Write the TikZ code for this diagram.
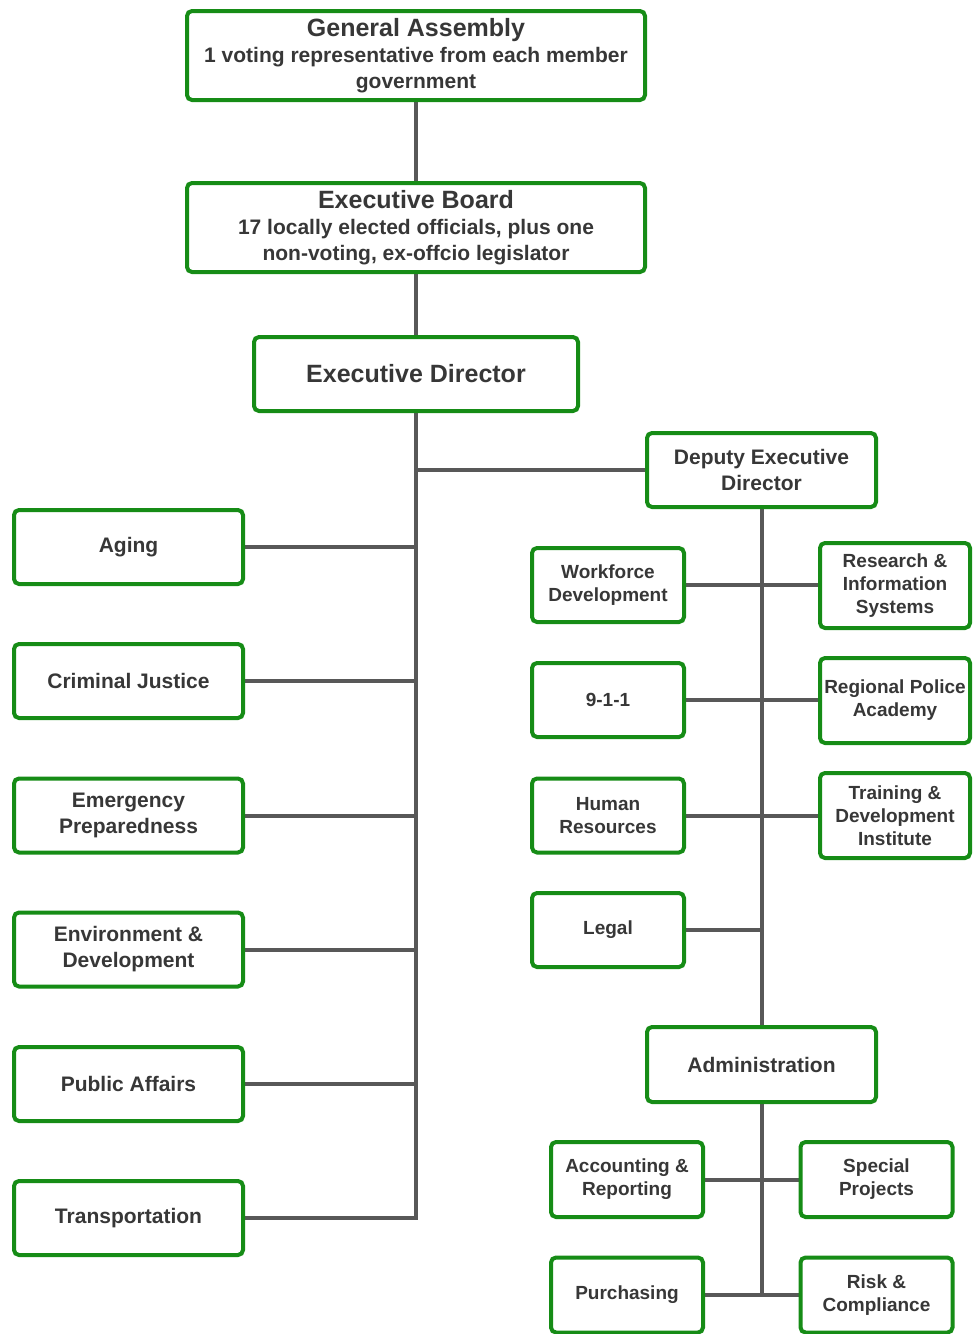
\documentclass[tikz,border=0pt]{standalone}
\usepackage{fontspec}
\setmainfont{Liberation Sans}
\usetikzlibrary{positioning, backgrounds}

\definecolor{boxgreen}{RGB}{22,140,22}
\definecolor{linkgray}{RGB}{88,88,88}
\definecolor{txtgray}{RGB}{55,55,55}

\begin{document}
\begin{tikzpicture}[
    x=1pt, y=-1pt,
    % Styles
    unit/.style={ % Any box of the chart
        rectangle,
        rounded corners=5pt,
        draw=boxgreen,
        line width=4pt,
        fill=white,
        align=center,
        inner sep=0pt,
        text=txtgray,
        font=\bfseries\fontsize{21}{26}\selectfont
    },
    head/.style={ % Top boxes
        unit,
        minimum width=458pt,
        minimum height=89pt
    },
    dept/.style={ % Left and deputy column
        unit,
        minimum width=229pt,
        minimum height=74pt
    },
    office/.style={ % Small boxes on the right
        unit,
        font=\bfseries\fontsize{19}{23}\selectfont,
        minimum width=152pt,
        minimum height=74pt
    },
    link/.style={
        draw=linkgray,
        line width=4pt
    }
]
    \useasboundingbox (0,0) rectangle (973,1334);

    % Top of the chart
    \node[head] (ga) at (416,55.5)
        {{\fontsize{25}{28}\selectfont General Assembly}\\
         1 voting representative from each member\\ government};
    \node[head] (eb) at (416,227.5)
        {{\fontsize{25}{28}\selectfont Executive Board}\\
         17 locally elected officials, plus one\\ non-voting, ex-offcio legislator};
    \node[unit, minimum width=324pt, minimum height=74pt,
          font=\bfseries\fontsize{25}{28}\selectfont] (ed) at (416,374) {Executive Director};
    \node[dept] (dep) at (761.5,470) {Deputy Executive\\ Director};

    % Departments under the director
    \node[dept] (aging) at (128.5,547) {Aging};
    \node[dept] (cj) at (128.5,681) {Criminal Justice};
    \node[dept] (ep) at (128.5,815.5) {Emergency\\ Preparedness};
    \node[dept] (envdev) at (128.5,949.5) {Environment \&\\ Development};
    \node[dept] (pa) at (128.5,1084) {Public Affairs};
    \node[dept] (trans) at (128.5,1218) {Transportation};

    % Offices under the deputy
    \node[office] (wf) at (608,585) {Workforce\\ Development};
    \node[office] (nine) at (608,700) {9-1-1};
    \node[office] (hr) at (608,815.5) {Human\\ Resources};
    \node[office] (legal) at (608,930) {Legal};
    \node[office, minimum width=150pt, minimum height=85pt] (ris) at (895,585.5)
        {Research \&\\ Information\\ Systems};
    \node[office, minimum width=150pt, minimum height=85pt] (rpa) at (895,700.5)
        {Regional Police\\ Academy};
    \node[office, minimum width=150pt, minimum height=85pt] (tdi) at (895,815.5)
        {Training \&\\ Development\\ Institute};

    % Administration
    \node[dept, minimum height=75pt] (admin) at (761.5,1064.5) {Administration};
    \node[office, minimum height=75pt] (acct) at (627,1179.5) {Accounting \&\\ Reporting};
    \node[office, minimum height=75pt] (spec) at (876.5,1179.5) {Special\\ Projects};
    \node[office, minimum height=75pt] (purch) at (627,1295) {Purchasing};
    \node[office, minimum height=75pt] (risk) at (876.5,1295) {Risk \&\\ Compliance};

    % Connectors
    \begin{scope}[on background layer]
        \draw[link] (ga) -- (eb);
        \draw[link] (eb) -- (ed);
        \draw[link] (ed.south) -- (ed.south |- trans.east) -- (trans.east);
        \draw[link] (ed.south |- dep.west) -- (dep.west);
        \foreach \d in {aging, cj, ep, envdev, pa}
            \draw[link] (\d.east) -- (\d.east -| ed.south);

        \draw[link] (dep.south) -- (admin.north);
        \draw[link] (wf.east) -- (wf.east -| ris.west);
        \draw[link] (nine.east) -- (nine.east -| rpa.west);
        \draw[link] (hr.east) -- (hr.east -| tdi.west);
        \draw[link] (legal.east) -- (legal.east -| dep.south);

        \draw[link] (admin.south) -- (admin.south |- purch.east);
        \draw[link] (acct.east) -- (spec.west);
        \draw[link] (purch.east) -- (risk.west);
    \end{scope}
\end{tikzpicture}
\end{document}
